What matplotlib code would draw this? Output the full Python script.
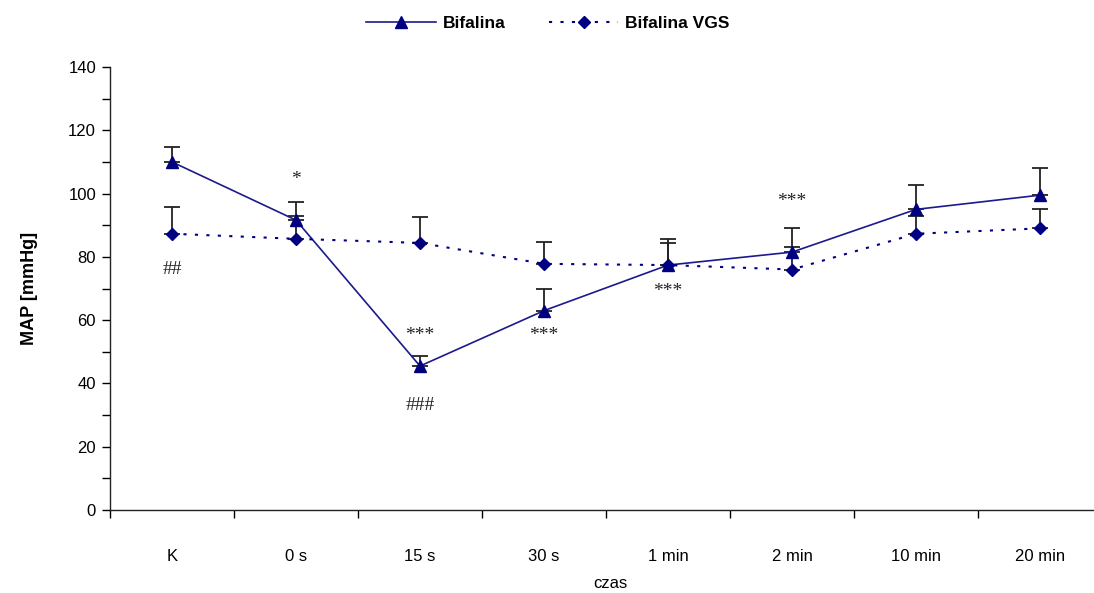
import matplotlib
matplotlib.use("Agg")
import matplotlib.pyplot as plt
from matplotlib.ticker import MultipleLocator

plt.rcParams['font.family'] = ['Liberation Sans', 'DejaVu Sans']

# time points and mean arterial pressure
czas = ['K', '0 s', '15 s', '30 s', '1 min', '2 min', '10 min', '20 min']
bif = [110, 91.6, 45.5, 63, 77.4, 81.5, 95, 99.5]
bif_err = [4.7, 5.8, 3.2, 7, 8.2, 7.5, 7.7, 8.5]
vgs = [87.3, 85.7, 84.4, 77.8, 77.4, 76, 87.3, 89]
vgs_err = [8.5, 7.3, 8.2, 6.9, 7, 7, 5.7, 6]

# significance marks: (category index, y value, text)
marks = [(1, 104.5, '*'), (0, 76, '##'), (2, 55, '***'), (2, 33, '###'),
         (3, 55, '***'), (4, 69, '***'), (5, 97.5, '***')]

navy = '#000080'
x = list(range(len(czas)))

fig = plt.figure(figsize=(10.94, 5.93), dpi=100)
ax = fig.add_axes([110 / 1094, 83 / 593, 992 / 1094, 443 / 593])

ax.errorbar(x, vgs, yerr=[[0] * len(x), vgs_err], fmt='none', ecolor='#222222',
            elinewidth=1.3, capsize=6, capthick=1.3, zorder=2)
ax.errorbar(x, bif, yerr=[[0] * len(x), bif_err], fmt='none', ecolor='#222222',
            elinewidth=1.3, capsize=6, capthick=1.3, zorder=2)

ax.plot(x, bif, color='#1a1a8c', lw=1.2, marker='^', ms=8, mfc=navy, mec=navy,
        label='Bifalina', zorder=3)
ax.plot(x, vgs, color=navy, lw=1.5, ls=(0, (1.5, 4)), marker='D', ms=6,
        label='Bifalina VGS', zorder=3)

for i, yv, t in marks:
    ax.text(i, yv, t, ha='center', va='center', fontsize=14,
            family=['Liberation Serif', 'DejaVu Serif'], color='#222222')

ax.set_xlim(-0.5, 7.5)
ax.set_ylim(0, 140)
ax.yaxis.set_major_locator(MultipleLocator(20))
ax.yaxis.set_minor_locator(MultipleLocator(10))
ax.tick_params(axis='y', which='both', direction='out', length=6, width=1,
               labelsize=12, pad=4)
ax.set_xticks(x)
ax.set_xticklabels(czas)
ax.set_xticks([i + 0.5 for i in x[:-1]] + [-0.5], minor=True)
ax.tick_params(axis='x', which='major', length=0, labelsize=12, pad=28)
ax.tick_params(axis='x', which='minor', direction='out', length=6, width=1)

for s in ['top', 'right']:
    ax.spines[s].set_visible(False)
for s in ['left', 'bottom']:
    ax.spines[s].set_linewidth(1)
    ax.spines[s].set_color('#222222')

ax.set_ylabel('MAP [mmHg]', fontsize=13, fontweight='bold', labelpad=22)
fig.text(610 / 1094, 1 - 583 / 593, 'czas', ha='center', va='center', fontsize=12)

leg = ax.legend(loc='upper center', ncol=2, frameon=False,
                prop={'weight': 'bold', 'size': 12.5},
                handlelength=4, columnspacing=2.5, handletextpad=0.4)
leg.set_bbox_to_anchor((548 / 1094, 1.0), transform=fig.transFigure)

fig.savefig('out.png', dpi=100, facecolor='white')
